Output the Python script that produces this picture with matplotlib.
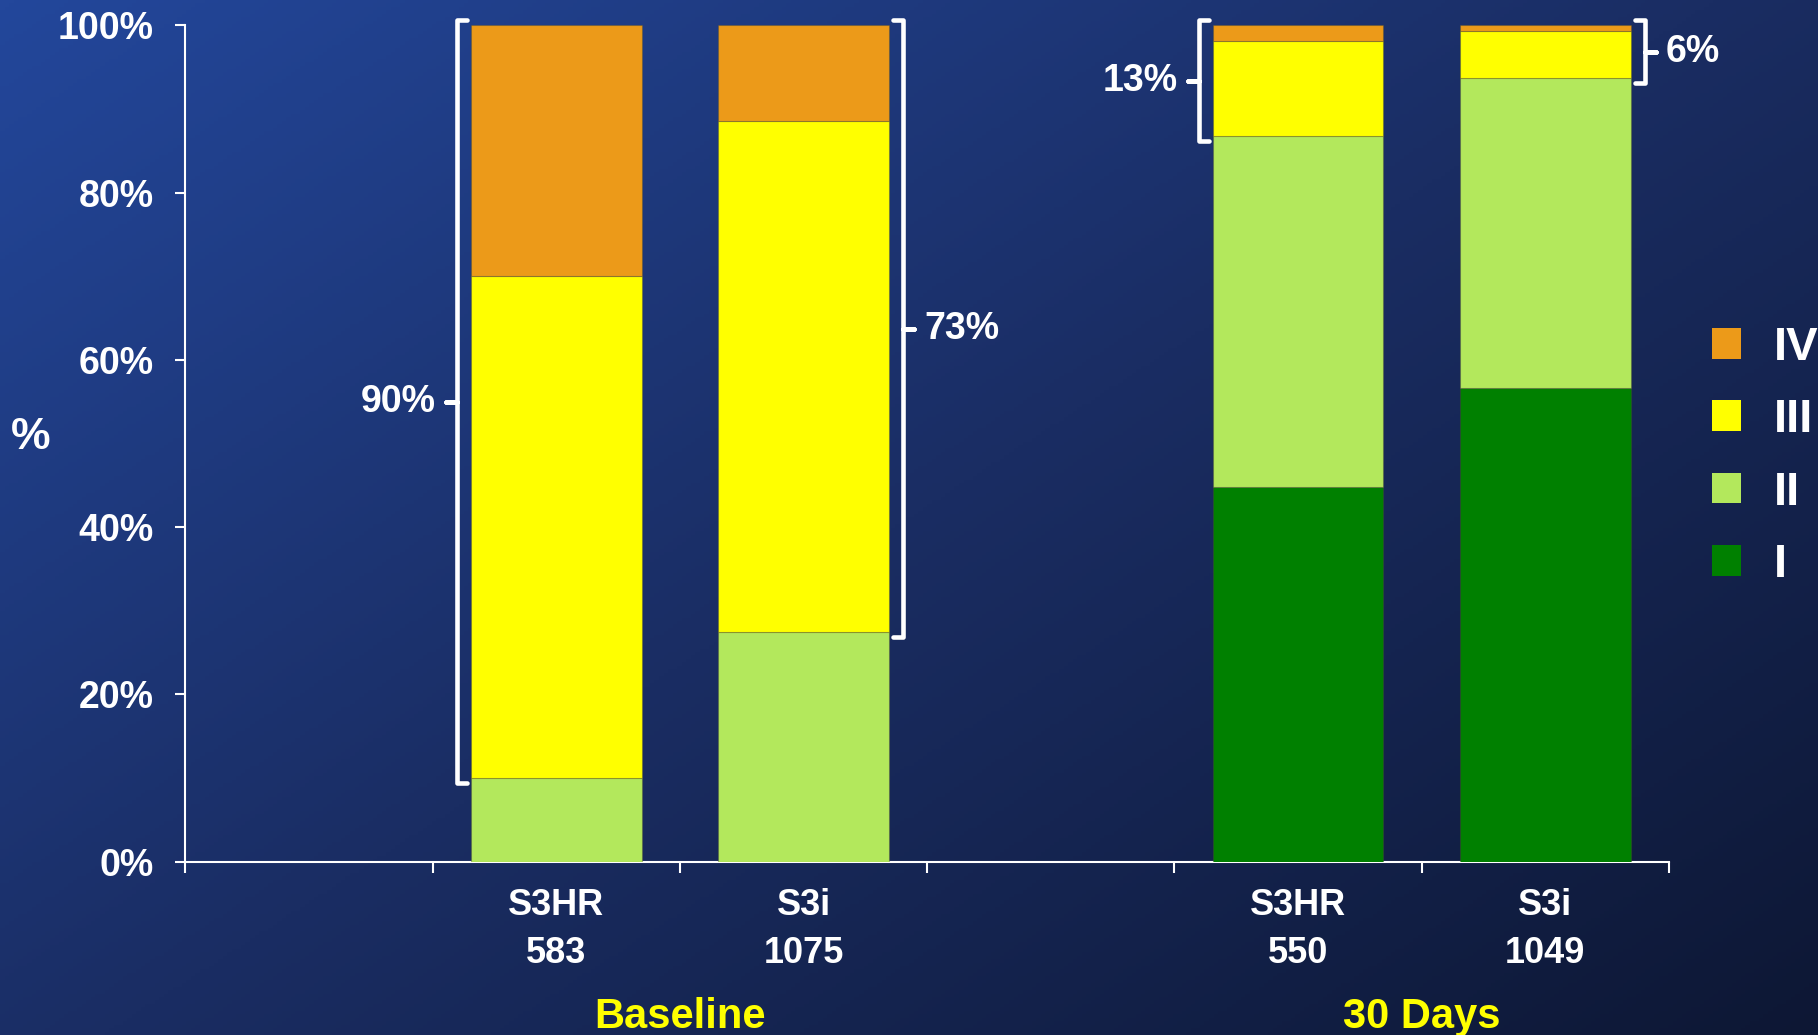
import numpy as np
import matplotlib
matplotlib.use("Agg")
import matplotlib.pyplot as plt
from matplotlib.patches import Patch
from matplotlib.colors import LinearSegmentedColormap

plt.rcParams['font.family'] = ['Liberation Sans', 'DejaVu Sans']
plt.rcParams['font.weight'] = 'bold'

# ===== データ =====
groups = ['Baseline', '30 Days']
arms = ['S3HR', 'S3i', 'S3HR', 'S3i']
n_pts = [583, 1075, 550, 1049]
pos = [1, 2, 4, 5]                      # 空きスロットを挟んで2群に分ける
classes = ['I', 'II', 'III', 'IV']
colors = ['#008000', '#b3e85c', '#ffff00', '#ec9a19']
cls_I = [0.0, 0.0, 44.8, 56.6]
cls_II = [10.0, 27.5, 42.0, 37.1]
cls_III = [60.0, 61.1, 11.3, 5.6]
cls_IV = [30.0, 11.4, 1.9, 0.7]

# 括弧: (棒番号, 下端, 上端, 向き, ラベル)
brackets = [(0, 10.0, 100.0, -1, '90%'),
            (1, 27.5, 100.0, 1, '73%'),
            (2, 86.8, 100.0, -1, '13%'),
            (3, 93.7, 100.0, 1, '6%')]

fig = plt.figure(figsize=(18.18, 10.35), dpi=100)

# ===== 背景グラデーション =====
bg = fig.add_axes([0, 0, 1, 1], zorder=-10)
gx, gy = np.meshgrid(np.linspace(0, 1, 400), np.linspace(0, 1, 300))
t = (gx * 0.62 + gy * 0.55) / 1.17
cmap = LinearSegmentedColormap.from_list('bg', ['#23479b', '#1a2d63', '#0d1734'])
bg.imshow(t, cmap=cmap, aspect='auto', extent=[0, 1, 0, 1], origin='upper')
bg.axis('off')

ax = fig.add_axes([0.102, 0.1676, 0.816, 0.8078])
ax.patch.set_alpha(0)

# ===== 積み上げ棒 =====
w = 0.69
bottom = np.zeros(len(pos))
for vals, col, lab in zip([cls_I, cls_II, cls_III, cls_IV], colors, classes):
    vals = np.array(vals)
    ax.bar(pos, vals, w, bottom=bottom, color=col, label=lab,
           edgecolor=(0.3, 0.3, 0.2, 0.35), linewidth=0.8, zorder=3)
    bottom += vals

# ===== 括弧 =====
for i, y0, y1, d, txt in brackets:
    x = pos[i] + d * (w / 2 + 0.057)
    hook, tip, ext = 0.04, 0.045, 0.6
    ym = (y0 + y1) / 2
    xs = [x - d * hook, x, x, x + d * tip, x, x, x - d * hook]
    ys = [y0 - ext, y0 - ext, ym, ym, ym, y1 + ext, y1 + ext]
    ax.plot(xs, ys, color='white', lw=3.3, solid_joinstyle='round',
            solid_capstyle='round', clip_on=False, zorder=5)
    ax.text(x + d * (tip + 0.04), ym, txt, color='white', fontsize=27,
            fontweight='bold', ha='left' if d > 0 else 'right', va='center')

# ===== 軸 =====
ax.set_xlim(-0.5, 5.5)
ax.set_ylim(0, 100)
ax.set_xticks(np.arange(-0.5, 6.0, 1.0))
ax.set_xticklabels([])
ax.set_xticks(pos, [f'{a}\n{n}' for a, n in zip(arms, n_pts)], minor=True)
ax.tick_params(axis='x', which='major', direction='out', length=8,
               width=1.5, color='white')
ax.tick_params(axis='x', which='minor', length=0, pad=19, labelsize=26,
               labelcolor='white')
ax.set_yticks(np.arange(0, 101, 20))
ax.set_yticklabels([f'{v}%' for v in range(0, 101, 20)])
ax.tick_params(axis='y', direction='out', length=7, width=1.5, color='white',
               pad=16, labelsize=27, labelcolor='white')
for lbl in ax.get_xticklabels(minor=True):
    lbl.set_linespacing(1.5)
    lbl.set_fontweight('bold')
for lbl in ax.get_yticklabels():
    lbl.set_fontweight('bold')
for s in ['top', 'right']:
    ax.spines[s].set_visible(False)
for s in ['left', 'bottom']:
    ax.spines[s].set_color('white')
    ax.spines[s].set_linewidth(1.5)

for gx_, g in zip([1.5, 4.5], groups):
    ax.text(gx_, -0.199, g, transform=ax.get_xaxis_transform(), color='#ffff00',
            fontsize=30, fontweight='bold', ha='center', va='baseline')

fig.text(0.017, 0.577, '%', color='white', fontsize=32, fontweight='bold',
         ha='center', va='center')

# ===== 凡例 =====
handles = [Patch(facecolor=c) for c in colors][::-1]
leg = fig.legend(handles, classes[::-1], loc='center left',
                 bbox_to_anchor=(0.9417, 0.5589), frameon=False,
                 borderpad=0, borderaxespad=0, handlelength=0.62,
                 handleheight=0.62, handletextpad=0.7, labelspacing=0.6,
                 prop={'size': 34, 'weight': 'bold'})
for txt in leg.get_texts():
    txt.set_color('white')

plt.savefig('out.png', dpi=100)
